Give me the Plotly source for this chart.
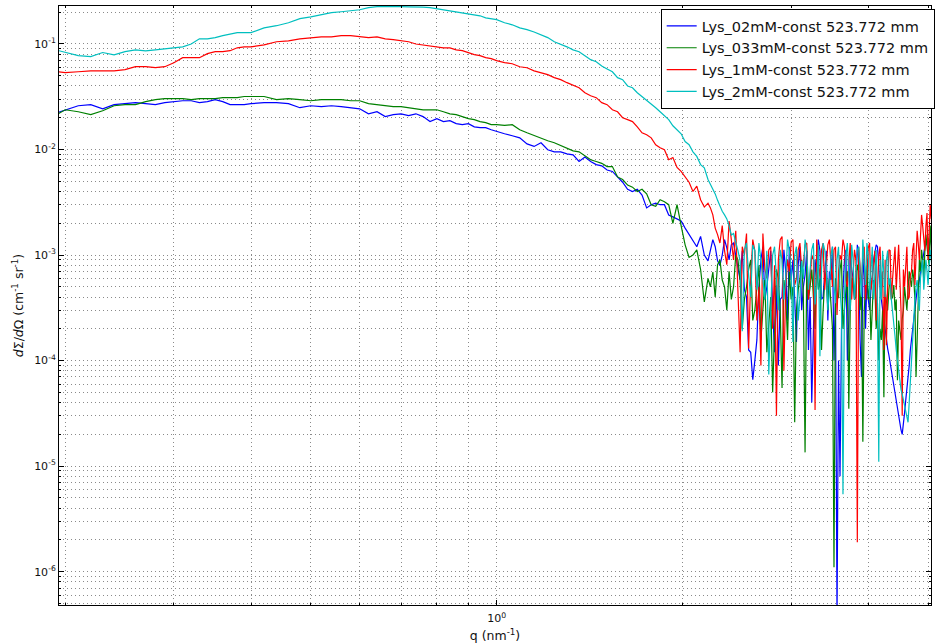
import plotly.graph_objects as go

# ---------------- data ----------------
q = [
    0.19, 0.20, 0.21, 0.22, 0.23, 0.24, 0.25, 0.26, 0.27, 0.28, 0.29, 0.30, 0.31, 0.32, 0.33, 0.34,
    0.35, 0.36, 0.37, 0.38, 0.39, 0.40,
    0.42, 0.44, 0.46, 0.48, 0.50, 0.52, 0.54, 0.56, 0.58, 0.60, 0.62, 0.64, 0.66, 0.68, 0.70, 0.72,
    0.74, 0.76, 0.78, 0.80, 0.82, 0.84, 0.86, 0.88, 0.90, 0.92, 0.94, 0.96, 0.98, 1.00,
    1.03, 1.06, 1.09, 1.12, 1.15, 1.18, 1.21, 1.24, 1.27, 1.30, 1.33, 1.36, 1.39, 1.42, 1.45, 1.48,
    1.51, 1.54, 1.57, 1.60, 1.63, 1.66, 1.69, 1.72, 1.75, 1.78, 1.81, 1.84, 1.87, 1.90, 1.93, 1.96,
    1.99, 2.02, 2.05, 2.08, 2.11, 2.14, 2.17, 2.20,
    2.22, 2.24, 2.26, 2.28, 2.30, 2.32, 2.34, 2.36, 2.38, 2.40, 2.42, 2.44, 2.46, 2.48, 2.50, 2.52,
    2.54, 2.56, 2.58, 2.60, 2.62, 2.64, 2.66, 2.68, 2.70, 2.72, 2.74, 2.76, 2.78, 2.80, 2.82, 2.84,
    2.86, 2.88, 2.90, 2.92, 2.94, 2.96, 2.98, 3.00, 3.02, 3.04, 3.06, 3.08, 3.10, 3.12, 3.14, 3.16,
    3.18, 3.20, 3.22, 3.24, 3.26, 3.28, 3.30, 3.32, 3.34, 3.36, 3.38, 3.40, 3.42, 3.44, 3.46, 3.48,
    3.50, 3.52, 3.54, 3.56, 3.58, 3.60, 3.62, 3.64, 3.66, 3.68, 3.70, 3.72, 3.74, 3.76, 3.78, 3.80,
    3.82, 3.84, 3.86, 3.88, 3.90, 3.92, 3.94, 3.96, 3.98, 4.00, 4.02, 4.04, 4.06, 4.08, 4.10, 4.12,
    4.14, 4.16, 4.18, 4.20, 4.22, 4.24, 4.26, 4.28, 4.30, 4.32, 4.34, 4.36, 4.38, 4.40, 4.42, 4.44,
    4.46, 4.48, 4.50, 4.52, 4.54, 4.56, 4.58, 4.60, 4.62, 4.64, 4.66, 4.68, 4.70, 4.72, 4.74, 4.76,
    4.78, 4.80, 4.82, 4.84, 4.86, 4.88, 4.90, 4.92, 4.94, 4.96, 4.98, 5.00, 5.02, 5.04, 5.06, 5.08,
    5.10, 5.12,
]

lys_02mM = [
    0.0214, 0.0238, 0.026, 0.0266, 0.0243, 0.0266, 0.0272, 0.0278, 0.0272, 0.0266, 0.0278, 0.0284,
    0.029, 0.029, 0.0278, 0.0284, 0.0297, 0.0284, 0.0266, 0.0266, 0.0266, 0.0272,
    0.0278, 0.0278, 0.0272, 0.0249, 0.026, 0.0255, 0.026, 0.0255, 0.0249, 0.0243,
    0.0218, 0.0228, 0.0205, 0.0214, 0.0218, 0.021, 0.0218, 0.0205, 0.0184, 0.0196,
    0.0184, 0.0188, 0.0176, 0.0172, 0.0176, 0.0164, 0.0161, 0.0161, 0.0154, 0.0148,
    0.0141, 0.0135, 0.0129, 0.0113, 0.0107, 0.0116, 0.00996, 0.0095, 0.0095, 0.0091,
    0.0089, 0.0077, 0.0085, 0.0077, 0.0072, 0.007, 0.0064, 0.0062, 0.0055, 0.0049,
    0.0042, 0.004, 0.0042, 0.0037, 0.0028, 0.003, 0.0031, 0.003, 0.003, 0.0024,
    0.0023, 0.0022, 0.0021, 0.0018, 0.00156, 0.00135, 0.0012, 0.0015, 0.001, 0.00088,
    0.0011, 0.0014, 0.0012, 0.00088, 0.0008, 0.001, 0.0014, 0.00117, 0.0009, 0.00125,
    0.0013, 0.001, 0.0008, 0.00058, 0.0011, 0.00047, 0.0004, 0.000126, 0.00012, 6.6e-5,
    0.0001, 0.000157, 0.0005, 0.0009, 0.0012, 0.00038, 0.0005, 0.00073, 0.0011, 0.0003,
    0.00012, 0.00052, 9e-5, 0.00038, 0.0004, 0.00112, 0.0007, 0.00024, 0.0012, 0.00058,
    0.0009, 0.00038, 0.00015, 0.00081, 0.0012, 0.0003, 0.0005, 0.00065, 0.0011, 0.000126,
    0.0004, 4e-5, 0.0003, 0.0009, 0.0006, 0.0014, 0.0011, 0.00038, 0.0004, 0.00073,
    0.0011, 0.00024, 0.0007, 0.00058, 0.0012, 0.0001, 0.0004, 3.5e-7, 0.0001, 8e-6,
    0.0002, 0.00047, 0.0009, 0.00112, 0.0001, 0.00024, 0.0011, 0.00073, 0.0006, 0.00038,
    0.0005, 0.00125, 0.0009, 0.000157, 7e-5, 0.00058, 0.0010, 0.0002, 0.0006, 0.00038,
    0.0003, 0.00047, 0.0006, 0.0009, 0.0011, 0.00125, 0.0012, 0.00073, 0.0005, 0.00038,
    0.0003, 0.00024, 0.0002, 0.000157, 0.00013, 0.000113, 9.5e-5, 8e-5, 7e-5, 5.9e-5,
    5e-5, 4.2e-5, 3.5e-5, 3e-5, 2.5e-5, 2.2e-5, 2.0e-5, 2.4e-5, 3.2e-5, 4.2e-5,
    5.2e-5, 6.5e-5, 9e-5, 0.000126, 0.00016, 0.0002, 0.00025, 0.0003, 0.0004, 0.00047,
    0.0005, 0.00058, 0.0007, 0.00081, 0.0009, 0.00112, 0.0012, 0.00125, 0.0013, 0.0014,
    0.0012, 0.0014, 0.0015, 0.00156, 0.0013, 0.00125,
]

lys_033mM = [
    0.020, 0.0238, 0.0228, 0.0214, 0.0233, 0.026, 0.0266, 0.0266, 0.0284, 0.0297, 0.0304, 0.0304,
    0.0304, 0.0297, 0.0304, 0.0304, 0.0304, 0.031, 0.031, 0.031, 0.0318, 0.0318,
    0.0318, 0.0297, 0.0304, 0.0297, 0.029, 0.0297, 0.0297, 0.0297, 0.029, 0.029,
    0.0272, 0.0266, 0.026, 0.0255, 0.0255, 0.0249, 0.0243, 0.0238, 0.0238, 0.0238,
    0.0228, 0.0218, 0.0214, 0.0205, 0.0196, 0.0192, 0.0184, 0.018, 0.0172, 0.0172,
    0.0169, 0.0172, 0.0154, 0.0144, 0.0135, 0.0127, 0.0121, 0.0116, 0.0109, 0.0104,
    0.0097, 0.0095, 0.0087, 0.008, 0.0077, 0.0074, 0.0069, 0.0069, 0.0055, 0.0052,
    0.0046, 0.0044, 0.004, 0.0042, 0.0038, 0.003, 0.0029, 0.00334, 0.0032, 0.003,
    0.002, 0.003, 0.0019, 0.00125, 0.00095, 0.001, 0.00112, 0.00073, 0.00036, 0.0006,
    0.0005, 0.00069, 0.0004, 0.00081, 0.0009, 0.00058, 0.0005, 0.0003, 0.0007, 0.00038,
    0.0005, 0.001, 0.0009, 0.00058, 0.0002, 0.00038, 0.0005, 0.00073, 0.0009, 0.00024,
    0.0003, 0.00047, 0.0008, 0.000157, 0.0003, 0.00058, 0.00012, 0.0002, 0.0004, 5e-5,
    0.0002, 0.00073, 0.0006, 0.0003, 5.5e-5, 0.00058, 0.0004, 0.000157, 0.0007, 0.00038,
    0.0005, 2.6e-5, 0.0003, 0.00047, 0.0006, 0.0009, 0.0004, 1.35e-5, 0.0008, 0.00038,
    0.0005, 0.00073, 0.0004, 0.0002, 0.0009, 0.00047, 0.0006, 0.000126, 0.0003, 0.00058,
    0.0007, 0.0003, 0.0006, 0.00038, 0.0002, 1.1e-6, 0.0006, 0.00038, 0.0004, 0.00073,
    0.0009, 0.0002, 0.0003, 0.00047, 0.0007, 3.5e-5, 0.0003, 0.00058, 0.0006, 0.00038,
    0.0004, 0.00081, 0.0007, 0.0003, 0.0005, 1.7e-5, 0.0003, 0.00047, 0.0008, 0.00038,
    0.0005, 0.000157, 0.0003, 0.00058, 0.0005, 0.0002, 0.00035, 0.0001, 0.0002, 0.000157,
    0.0003, 4.5e-5, 0.00045, 0.00038, 0.0003, 0.00047, 0.0006, 0.00038, 0.0004, 0.00052,
    0.0003, 0.00038, 6.5e-5, 0.00024, 0.0002, 0.000157, 0.00025, 0.0003, 0.0005, 0.00038,
    0.0003, 0.00047, 0.0007, 0.00058, 0.0005, 0.00073, 0.0006, 0.00038, 7e-5, 0.000157,
    0.0005, 0.0009, 0.0007, 0.00112, 0.0009, 0.00058, 0.0011, 0.00156, 0.0012, 0.0009,
    0.0008, 0.0019, 0.0012, 0.00038, 0.0009, 0.0014,
]

lys_1mM = [
    0.0557, 0.0535, 0.0546, 0.0557, 0.0557, 0.0557, 0.0571, 0.0609, 0.0609, 0.0596, 0.0609, 0.0665,
    0.0742, 0.0742, 0.0742, 0.081, 0.0845, 0.0845, 0.0864, 0.092, 0.094, 0.094,
    0.098, 0.105, 0.107, 0.112, 0.115, 0.117, 0.117, 0.120, 0.120, 0.117,
    0.115, 0.117, 0.112, 0.110, 0.107, 0.105, 0.100, 0.098, 0.096, 0.094,
    0.092, 0.092, 0.088, 0.0864, 0.0827, 0.0792, 0.0775, 0.0742, 0.0726, 0.0695,
    0.0665, 0.065, 0.0609, 0.0596, 0.0557, 0.0535, 0.0512, 0.048, 0.0459, 0.043,
    0.0403, 0.0385, 0.0345, 0.0323, 0.031, 0.0278, 0.0266, 0.0238, 0.0228, 0.020,
    0.0192, 0.0184, 0.0164, 0.0144, 0.0138, 0.0129, 0.0111, 0.0104, 0.00996, 0.008,
    0.0084, 0.00676, 0.0062, 0.0055, 0.0049, 0.004, 0.0045, 0.00334, 0.00285, 0.0031,
    0.0028, 0.0024, 0.0018, 0.00156, 0.0013, 0.0019, 0.0011, 0.00081, 0.0021, 0.0014,
    0.0009, 0.0017, 0.0005, 0.00012, 0.0012, 0.001, 0.0016, 0.00013, 0.0006, 0.0014,
    0.0011, 0.00024, 0.0005, 9e-5, 0.0016, 0.00073, 0.0006, 0.00112, 0.0012, 0.0002,
    0.0008, 3e-5, 0.0009, 0.0014, 0.0015, 8e-5, 0.0005, 0.0009, 0.0007, 0.00133,
    0.0014, 0.00052, 0.0006, 0.00112, 0.0013, 0.00073, 0.0008, 0.00125, 0.0013, 0.00038,
    0.0006, 0.001, 0.0009, 3.4e-5, 0.0014, 0.00088, 0.0006, 0.00112, 0.0013, 0.00047,
    0.0008, 0.00125, 0.0014, 0.00073, 0.0005, 0.00112, 0.0012, 0.00027, 0.0007, 0.001,
    0.0009, 0.0014, 0.0012, 0.00058, 0.0005, 0.00088, 0.0013, 0.00038, 0.0007, 0.00112,
    0.0009, 1.9e-6, 0.0012, 0.00073, 0.0005, 0.001, 0.0012, 0.00038, 0.0006, 0.00117,
    0.0013, 0.00047, 0.0006, 0.0009, 0.0011, 0.00024, 0.0005, 0.001, 0.0012, 0.00047,
    0.0007, 0.000126, 0.0009, 0.00014, 0.0005, 0.00112, 0.0011, 0.00038, 0.0006, 0.00081,
    0.0012, 0.00047, 0.0008, 0.00125, 0.0006, 0.0003, 3e-5, 0.00073, 0.0005, 0.0009,
    0.0012, 0.00038, 0.0004, 0.00065, 0.0007, 0.00112, 0.0013, 0.00052, 0.0009, 0.0017,
    0.0013, 0.0009, 0.0015, 0.0024, 0.0019, 0.00125, 0.0011, 0.0019, 0.0025, 0.0009,
    0.0016, 0.003, 0.0022, 0.0037, 0.0028, 0.0017,
]

lys_2mM = [
    0.090, 0.083, 0.0775, 0.076, 0.083, 0.079, 0.0845, 0.088, 0.086, 0.088, 0.090, 0.092,
    0.094, 0.100, 0.112, 0.112, 0.115, 0.120, 0.125, 0.128, 0.128, 0.128,
    0.142, 0.149, 0.159, 0.174, 0.181, 0.190, 0.198, 0.202, 0.207, 0.211,
    0.221, 0.226, 0.226, 0.227, 0.226, 0.225, 0.226, 0.224, 0.221, 0.216,
    0.211, 0.207, 0.202, 0.198, 0.194, 0.190, 0.185, 0.177, 0.174, 0.170,
    0.159, 0.152, 0.142, 0.137, 0.130, 0.122, 0.115, 0.105, 0.100, 0.094,
    0.088, 0.0845, 0.0775, 0.071, 0.068, 0.062, 0.058, 0.0545, 0.048, 0.0459,
    0.040, 0.0385, 0.0345, 0.0318, 0.0297, 0.0272, 0.0249, 0.0228, 0.021, 0.0192,
    0.0168, 0.0154, 0.0141, 0.0119, 0.0111, 0.0095, 0.0086, 0.0072, 0.0067, 0.0052,
    0.0047, 0.0042, 0.0038, 0.0033, 0.0029, 0.0026, 0.0024, 0.0022, 0.0019, 0.00155,
    0.0016, 0.00135, 0.0011, 0.00088, 0.00019, 0.00112, 0.0013, 0.00065, 0.0004, 0.00125,
    0.0011, 0.00047, 0.0013, 0.0009, 0.0006, 0.00038, 0.0011, 7.4e-5, 0.0003, 0.001,
    0.0012, 0.00052, 0.0003, 0.00112, 0.0009, 0.00038, 0.0006, 0.0014, 0.0011, 0.00073,
    0.00015, 0.001, 0.0012, 0.00024, 0.0004, 0.00088, 0.0006, 0.0014, 0.0011, 0.00047,
    0.0008, 0.00112, 0.0013, 0.00034, 0.0005, 0.00125, 0.00011, 0.00073, 0.0013, 0.00112,
    0.0008, 0.0003, 0.00045, 0.001, 0.0012, 0.00052, 0.00035, 0.0009, 0.0012, 0.00047,
    0.0003, 5.4e-6, 0.0004, 0.001, 0.0013, 0.00058, 0.0003, 0.00125, 0.0009, 0.00038,
    0.0006, 0.00112, 0.0012, 0.00073, 0.0004, 0.0014, 0.0009, 0.00052, 0.0013, 0.001,
    0.0004, 0.00081, 0.0012, 0.00038, 0.0007, 0.00112, 0.0003, 1.1e-5, 0.0009, 0.00038,
    0.0011, 0.00073, 0.0004, 0.0009, 0.0011, 0.00052, 0.0006, 0.00038, 0.0003, 0.00024,
    0.00017, 0.000126, 0.0001, 8e-5, 6.5e-5, 5.3e-5, 4.8e-5, 4.2e-5, 3.8e-5, 3.4e-5,
    3.0e-5, 2.6e-5, 4e-5, 6.5e-5, 0.00012, 0.0002, 0.0003, 0.00038, 0.0005, 0.00058,
    0.0004, 0.0003, 0.0006, 0.00073, 0.0009, 0.00047, 0.0006, 0.0009, 0.0007, 0.00052,
    0.0008, 0.00112, 0.0009, 0.00065, 0.0007, 0.00088,
]

series_names = [
    "Lys_02mM-const 523.772 mm",
    "Lys_033mM-const 523.772 mm",
    "Lys_1mM-const 523.772 mm",
    "Lys_2mM-const 523.772 mm",
]
series_values = [lys_02mM, lys_033mM, lys_1mM, lys_2mM]
series_colors = ["#0000ff", "#008000", "#ff0000", "#00bfbf"]

x_tick_vals = [1]
x_tick_text = ["10<sup>0</sup>"]
x_minor_vals = [0.2, 0.3, 0.4, 0.5, 0.6, 0.7, 0.8, 0.9, 2, 3, 4, 5]
y_tick_vals = [1e-6, 1e-5, 1e-4, 1e-3, 1e-2, 1e-1]
y_tick_text = ["10<sup>-6</sup>", "10<sup>-5</sup>", "10<sup>-4</sup>",
               "10<sup>-3</sup>", "10<sup>-2</sup>", "10<sup>-1</sup>"]
y_minor_vals = [k * 10.0 ** e for e in range(-7, 0) for k in range(2, 10)]

# ---------------- figure ----------------
fig = go.Figure()
for name, vals, col in zip(series_names, series_values, series_colors):
    fig.add_trace(go.Scatter(x=q, y=vals, mode="lines", name=name,
                             line=dict(color=col, width=1.2)))

GRID_COL = "#8a8a8a"
GRID_DASH = "1px,3px"

common_axis = dict(
    showline=True, linecolor="black", linewidth=1, mirror="allticks",
    ticks="inside", ticklen=5, tickcolor="black",
    showgrid=True, gridcolor=GRID_COL, gridwidth=1, griddash=GRID_DASH,
    zeroline=False,
    tickfont=dict(family="DejaVu Sans", size=11, color="#111"),
)

fig.update_layout(
    width=937, height=643,
    margin=dict(l=59, r=2, t=6, b=38),
    paper_bgcolor="white", plot_bgcolor="white",
    font=dict(family="DejaVu Sans", size=11, color="#111"),
    showlegend=True,
    legend=dict(
        x=0.690, y=0.995, xanchor="left", yanchor="top",
        bgcolor="white", bordercolor="black", borderwidth=1,
        font=dict(family="DejaVu Sans", size=14.5, color="#111"),
        tracegroupgap=0,
    ),
    xaxis=dict(
        type="log", range=[-0.709, 0.7037],
        tickmode="array", tickvals=x_tick_vals, ticktext=x_tick_text,
        ticklabelstandoff=3,
        minor=dict(tickmode="array", tickvals=x_minor_vals, ticks="inside", ticklen=2,
                   tickcolor="black", showgrid=True, gridcolor=GRID_COL, gridwidth=1,
                   griddash=GRID_DASH),
        title=dict(text="q (nm<sup>-1</sup>)", font=dict(size=12.5), standoff=7),
        **common_axis,
    ),
    yaxis=dict(
        type="log", range=[-6.316, -0.640],
        tickmode="array", tickvals=y_tick_vals, ticktext=y_tick_text,
        minor=dict(tickmode="array", tickvals=y_minor_vals, ticks="inside", ticklen=2,
                   tickcolor="black", showgrid=True, gridcolor=GRID_COL, gridwidth=1,
                   griddash=GRID_DASH),
        title=dict(text="<i>d</i>Σ/<i>d</i>Ω (cm<sup>-1</sup> sr<sup>-1</sup>)",
                   font=dict(size=12.5), standoff=7),
        **common_axis,
    ),
)

fig.write_html("out.html")
